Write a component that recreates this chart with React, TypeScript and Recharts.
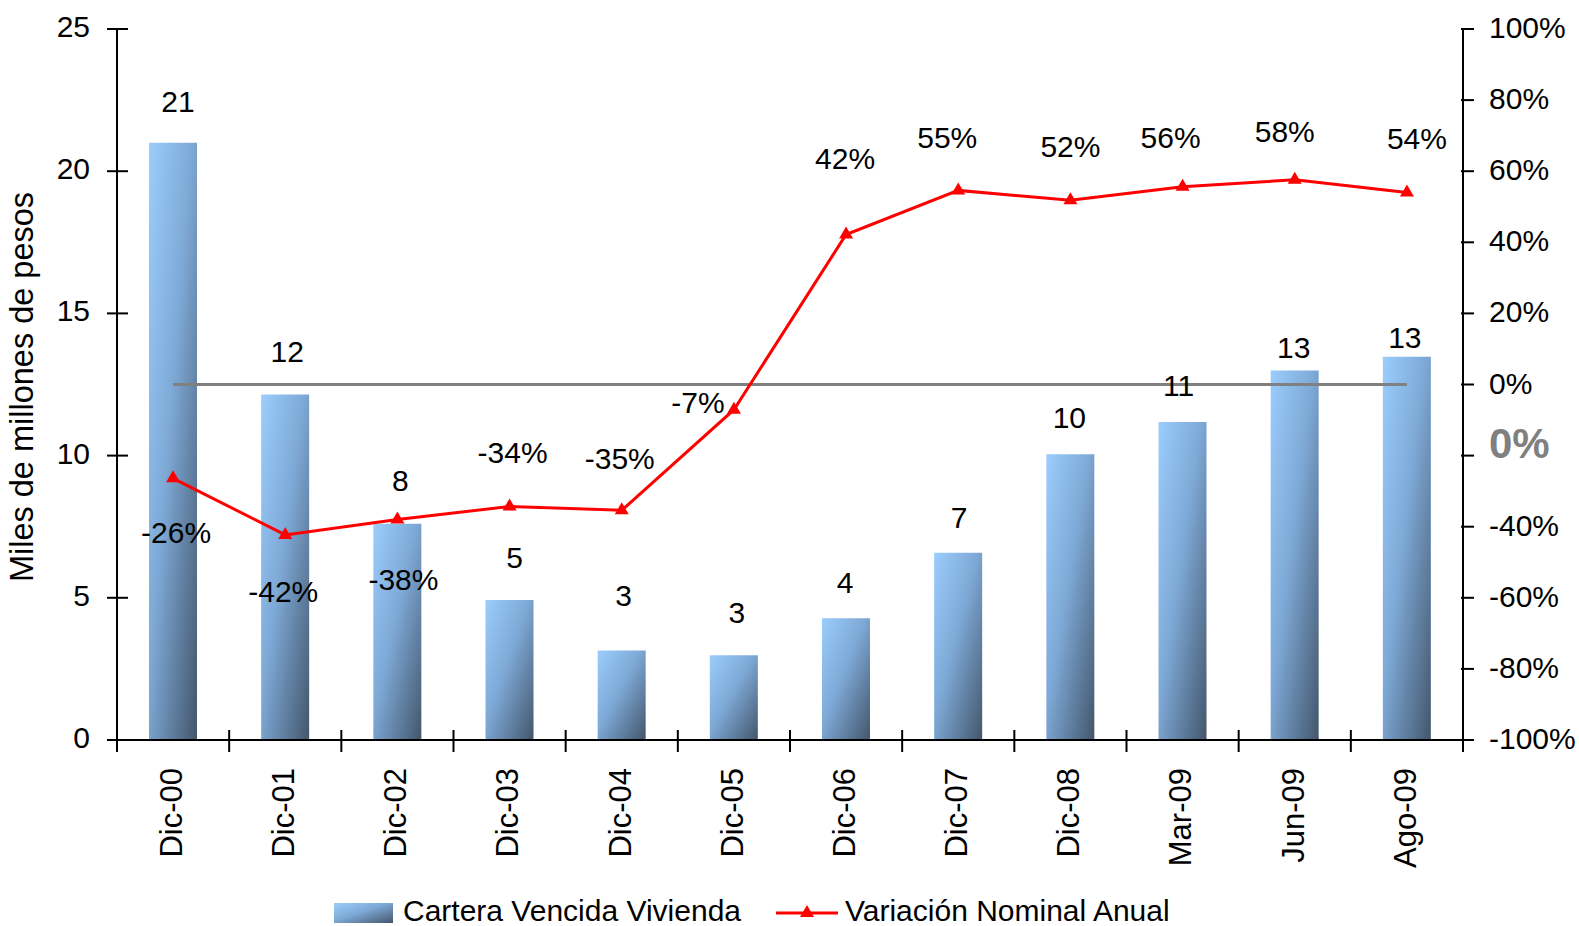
import React from "react";
import { Bar, ComposedChart, Label, LabelList, Line, ReferenceLine, XAxis, YAxis } from "recharts";

// categorías y series
const categories = ["Dic-00", "Dic-01", "Dic-02", "Dic-03", "Dic-04", "Dic-05", "Dic-06", "Dic-07", "Dic-08", "Mar-09", "Jun-09", "Ago-09"];
const cartera = [21.0, 12.15, 7.6, 4.92, 3.15, 2.98, 4.28, 6.58, 10.05, 11.18, 12.99, 13.48]; // miles de millones
const variacion = [-26.4, -42.3, -38, -34.3, -35.4, -7.1, 42.2, 54.6, 51.8, 55.6, 57.6, 54]; // %
const leftTicks = [0, 5, 10, 15, 20, 25];
const rightTicks = [-100, -80, -60, -40, -20, 0, 20, 40, 60, 80, 100];

// posición de las etiquetas (dx, dy respecto al punto / tope de la barra)
const lineLabelOffset: [number, number][] = [
  [3, 54], [-2, 56], [6, 59], [3, -54], [-2, -52], [-36, -8],
  [-1, -76], [-11, -53], [0, -54], [-12, -50], [-10, -49], [10, -55],
];
const barLabelOffset: [number, number][] = [
  [5, -42], [2, -43], [3, -44], [5, -43], [2, -55], [3, -43],
  [-1, -36], [1, -36], [-1, -37], [-4, -37], [-1, -24], [-2, -20],
];

const W = 1579;
const H = 926;
const AXIS_L = 117;
const AXIS_R = 1463;
const TOP = 29;
const BOTTOM = 740;
const BAND = (AXIS_R - AXIS_L) / categories.length;
const FONT = '"Liberation Sans", Arial, sans-serif';

const data = categories.map((cat, i) => ({ cat, cartera: cartera[i], variacion: variacion[i] }));

const LeftTick = ({ y, payload }: any) => (
  <g>
    <line x1={AXIS_L - 10} x2={AXIS_L + 11} y1={y} y2={y} stroke="#000" strokeWidth={2} />
    <text x={AXIS_L - 27} y={y + 8} textAnchor="end" fontSize={30} fontFamily={FONT} fill="#000">
      {payload.value}
    </text>
  </g>
);

const RightTick = ({ y, payload }: any) => (
  <g>
    <line x1={AXIS_R - 2} x2={AXIS_R + 11} y1={y} y2={y} stroke="#000" strokeWidth={2} />
    {payload.value === -20 ? (
      <text x={AXIS_R + 26} y={y + 2} fontSize={42} fontWeight="bold" fontFamily={FONT} fill="#808080">
        0%
      </text>
    ) : (
      <text x={AXIS_R + 26} y={y + 9} fontSize={30} fontFamily={FONT} fill="#000">
        {payload.value}%
      </text>
    )}
  </g>
);

const XTick = ({ x, payload, index }: any) => (
  <g>
    <line x1={x - BAND / 2} x2={x - BAND / 2} y1={BOTTOM - 10} y2={BOTTOM + 12} stroke="#000" strokeWidth={2} />
    {index === categories.length - 1 && (
      <line x1={x + BAND / 2} x2={x + BAND / 2} y1={BOTTOM - 10} y2={BOTTOM + 12} stroke="#000" strokeWidth={2} />
    )}
    <text
      transform={`translate(${x - 2},${BOTTOM + 28}) rotate(-90)`}
      textAnchor="end"
      dy="0.35em"
      fontSize={31}
      fontFamily={FONT}
      fill="#000"
    >
      {payload.value}
    </text>
  </g>
);

const BarValueLabel = ({ x, y, width, value, index }: any) => {
  const [dx, dy] = barLabelOffset[index] || [0, -42];
  return (
    <text x={x + width / 2 + dx} y={y + dy + 11} textAnchor="middle" fontSize={30} fontFamily={FONT} fill="#000">
      {Math.round(value)}
    </text>
  );
};

const LineValueLabel = ({ x, y, value, index }: any) => {
  const [dx, dy] = lineLabelOffset[index] || [0, -50];
  return (
    <text x={x + dx} y={y + dy + 11} textAnchor="middle" fontSize={30} fontFamily={FONT} fill="#000">
      {Math.round(value)}%
    </text>
  );
};

const Triangle = ({ cx, cy }: any) => {
  if (cx == null || cy == null) return null;
  return <path d={`M${cx},${cy - 8} L${cx + 7},${cy + 4} L${cx - 7},${cy + 4} Z`} fill="#ff0000" />;
};

const YLabel = () => (
  <text
    transform="translate(22,387) rotate(-90)"
    textAnchor="middle"
    dy="0.35em"
    fontSize={32.5}
    fontFamily={FONT}
    fill="#000"
  >
    Miles de millones de pesos
  </text>
);

const App = () => {
  return (
    <div style={{ position: "fixed", left: 0, top: 0, width: W, height: H, background: "#fff", overflow: "hidden" }}>
      <ComposedChart width={W} height={H} data={data} margin={{ top: TOP, right: 0, left: 0, bottom: 0 }}>
        <defs>
          <linearGradient id="barGrad" x1="0" y1="0" x2="1" y2="1">
            <stop offset="0%" stopColor="#9bcdfd" />
            <stop offset="45%" stopColor="#7ea9d6" />
            <stop offset="100%" stopColor="#43566c" />
          </linearGradient>
        </defs>
        <XAxis
          dataKey="cat"
          interval={0}
          height={H - BOTTOM}
          tickLine={false}
          axisLine={{ stroke: "#000", strokeWidth: 2 }}
          tick={<XTick />}
        />
        <YAxis
          yAxisId="left"
          orientation="left"
          width={AXIS_L}
          domain={[0, 25]}
          ticks={leftTicks}
          tickLine={false}
          axisLine={{ stroke: "#000", strokeWidth: 2 }}
          tick={<LeftTick />}
        >
          <Label content={<YLabel />} />
        </YAxis>
        <YAxis
          yAxisId="right"
          orientation="right"
          width={W - AXIS_R}
          domain={[-100, 100]}
          ticks={rightTicks}
          tickLine={false}
          axisLine={{ stroke: "#000", strokeWidth: 2 }}
          tick={<RightTick />}
        />
        <Bar yAxisId="left" dataKey="cartera" barSize={48} fill="url(#barGrad)" isAnimationActive={false}>
          <LabelList dataKey="cartera" content={<BarValueLabel />} />
        </Bar>
        <ReferenceLine
          yAxisId="right"
          segment={[
            { x: categories[0], y: 0 },
            { x: categories[categories.length - 1], y: 0 },
          ]}
          stroke="#808080"
          strokeWidth={3}
        />
        <Line
          yAxisId="right"
          dataKey="variacion"
          stroke="#ff0000"
          strokeWidth={3}
          dot={<Triangle />}
          activeDot={false}
          isAnimationActive={false}
        >
          <LabelList dataKey="variacion" content={<LineValueLabel />} />
        </Line>
      </ComposedChart>
      <svg width={W} height={H} style={{ position: "absolute", left: 0, top: 0, pointerEvents: "none" }}>
        <defs>
          <linearGradient id="legGrad" x1="0" y1="0" x2="1" y2="1">
            <stop offset="0%" stopColor="#9bcdfd" />
            <stop offset="45%" stopColor="#7ea9d6" />
            <stop offset="100%" stopColor="#43566c" />
          </linearGradient>
        </defs>
        <rect x={334} y={903} width={59} height={20} fill="url(#legGrad)" />
        <text x={403} y={921} fontSize={30} fontFamily={FONT} fill="#000">
          Cartera Vencida Vivienda
        </text>
        <line x1={776} x2={838} y1={913} y2={913} stroke="#ff0000" strokeWidth={3} />
        <Triangle cx={807} cy={913} />
        <text x={845} y={921} fontSize={30} fontFamily={FONT} fill="#000">
          Variación Nominal Anual
        </text>
      </svg>
    </div>
  );
};

export default App;
